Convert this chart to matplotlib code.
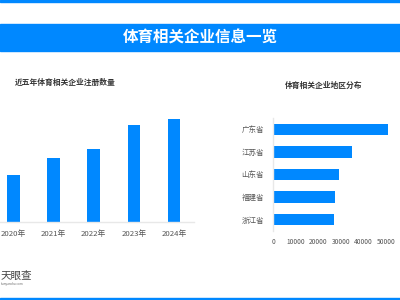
import matplotlib
matplotlib.use('Agg')
import matplotlib.pyplot as plt
from matplotlib.patches import Rectangle

plt.rcParams['font.family'] = ['Noto Sans CJK SC', 'DejaVu Sans']

BLUE = '#0088FF'

# data
years = ['2020年', '2021年', '2022年', '2023年', '2024年']
reg_counts = [4700, 6430, 7270, 9700, 10300]

provinces = ['广东省', '江苏省', '山东省', '福建省', '浙江省']
prov_counts = [50700, 34800, 29300, 27300, 26900]
x_ticks = [0, 10000, 20000, 30000, 40000, 50000]

fig = plt.figure(figsize=(4, 3), dpi=100)
H = 300.0
W = 400.0

# top thin line, title band, bottom line
fig.patches.append(Rectangle((0, 1 - 1.7 / H), 1, 1.7 / H, transform=fig.transFigure,
                             color=BLUE, zorder=0))
fig.patches.append(Rectangle((0, (H - 50.7) / H), 1, 26.7 / H, transform=fig.transFigure,
                             color=BLUE, zorder=0))
fig.patches.append(Rectangle((0, 0), 1, 2.3 / H, transform=fig.transFigure,
                             color=BLUE, zorder=0))
fig.text(0.5, (H - 37.5) / H, '体育相关企业信息一览', color='white', fontsize=11.2,
         fontweight='bold', ha='center', va='center')

# left chart: registrations by year
ax1 = fig.add_axes([-6.5 / W, (H - 222) / H, 200.5 / W, 122 / H])
ax1.bar(range(len(years)), reg_counts, width=0.315, color=BLUE)
ax1.set_xlim(-0.5, 4.5)
ax1.set_ylim(0, 12200)
ax1.set_xticks(range(len(years)))
ax1.set_xticklabels(years, fontsize=5.6, color='#555555')
ax1.tick_params(axis='x', length=0, pad=6)
ax1.set_yticks([])
for s in ['top', 'right', 'left']:
    ax1.spines[s].set_visible(False)
ax1.spines['bottom'].set_color('#e8e8e8')
ax1.spines['bottom'].set_linewidth(1)
fig.text(15 / W, (H - 82.7) / H, '近五年体育相关企业注册数量', fontsize=5.6,
         fontweight='bold', color='#333333', ha='left', va='center')

# right chart: regional distribution
ax2 = fig.add_axes([273 / W, (H - 231) / H, 117.5 / W, 113 / H])
ax2.barh(range(len(provinces)), prov_counts, height=0.5, color=BLUE)
ax2.set_ylim(4.5, -0.5)
ax2.set_xlim(0, 52000)
ax2.set_yticks(range(len(provinces)))
ax2.set_yticklabels(provinces, fontsize=5.4, color='#555555')
ax2.set_xticks(x_ticks)
ax2.set_xticklabels([str(v) for v in x_ticks], fontsize=4.8, color='#555555')
ax2.tick_params(axis='both', length=0)
ax2.tick_params(axis='y', pad=6.5)
ax2.tick_params(axis='x', pad=5)
for s in ['top', 'right', 'bottom']:
    ax2.spines[s].set_visible(False)
ax2.spines['left'].set_color('#e8e8e8')
ax2.spines['left'].set_linewidth(1)
fig.text(324 / W, (H - 85) / H, '体育相关企业地区分布', fontsize=5.6,
         fontweight='bold', color='#333333', ha='center', va='center')

# logo
fig.text(0.5 / W, (H - 275.5) / H, '天眼查', fontsize=7.6, color='#444444',
         ha='left', va='center')
fig.text(1 / W, (H - 283.5) / H, 'tianyancha.com', fontsize=2.2, color='#666666',
         ha='left', va='center')

fig.savefig('out.png', dpi=100)
